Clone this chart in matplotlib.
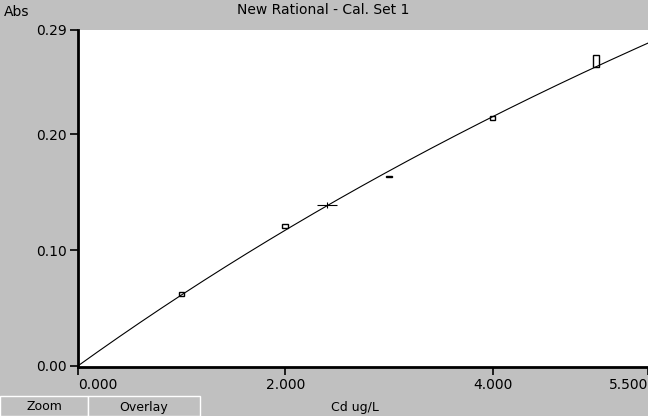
import matplotlib.pyplot as plt
import numpy as np

# calibration standards (conc, mean abs, replicate spread)
conc = [1.0, 2.0, 3.0, 4.0, 5.0]
absorb = [0.0622, 0.1206, 0.1635, 0.2142, 0.2630]
spread = [0.0030, 0.0030, 0.0015, 0.0030, 0.0100]
# sample read-back
sample_x = [2.4]
sample_y = [0.1385]
# rational fit coefficients: y = a*x / (1 + b*x)
fit_a = 0.0643
fit_b = 0.0489
xticks = [0.0, 2.0, 4.0, 5.5]
xtick_labels = ["0.000", "2.000", "4.000", "5.500"]
yticks = [0.0, 0.10, 0.20, 0.29]
ytick_labels = ["0.00", "0.10", "0.20", "0.29"]

grey = "#c0c0c0"
fig = plt.figure(figsize=(6.48, 4.16), dpi=100, facecolor=grey)
ax = fig.add_axes([78/648, 1 - 367/416, 1 - 78/648, 337/416])
ax.set_facecolor("white")

xs = np.linspace(0, 5.6, 300)
ax.plot(xs, fit_a * xs / (1 + fit_b * xs), color="black", lw=0.8)

bottoms = [y - s / 2 for y, s in zip(absorb, spread)]
ax.bar(conc, spread, bottom=bottoms, width=0.055, fill=False,
       edgecolor="black", lw=1.0)
ax.plot(sample_x, sample_y, marker="_", ms=14, color="black", mew=0.8)
ax.plot(sample_x, sample_y, marker="|", ms=4, color="black", mew=0.8)

ax.set_xlim(0, 5.5)
ax.set_ylim(-0.001, 0.29)
for s in ["right", "top"]:
    ax.spines[s].set_visible(False)
ax.spines["left"].set_linewidth(2)
ax.spines["bottom"].set_linewidth(2)
ax.set_xticks(xticks)
ax.set_xticklabels(xtick_labels)
ax.set_yticks(yticks)
ax.set_yticklabels(ytick_labels)
ax.tick_params(axis="both", direction="out", length=6, width=1.2,
               labelsize=10, pad=2)
labels = ax.get_xticklabels()
labels[0].set_ha("left")
labels[-1].set_ha("right")

fig.text(323/648, 1 - 10/416, "New Rational - Cal. Set 1", ha="center",
         va="center", fontsize=10)
fig.text(4/648, 1 - 12/416, "Abs", ha="left", va="center", fontsize=10)
fig.text(355/648, 1 - 407/416, "Cd ug/L", ha="center", va="center", fontsize=9)

for x0, w, t in [(0, 88, "Zoom"), (88, 112, "Overlay")]:
    fig.patches.append(plt.Rectangle((x0/648, 0), w/648, 20/416,
                       transform=fig.transFigure, facecolor=grey,
                       edgecolor="white", lw=1))
    fig.text((x0 + w/2)/648, 9/416, t, ha="center", va="center", fontsize=9)

fig.savefig("out.png", dpi=100, facecolor=grey)
